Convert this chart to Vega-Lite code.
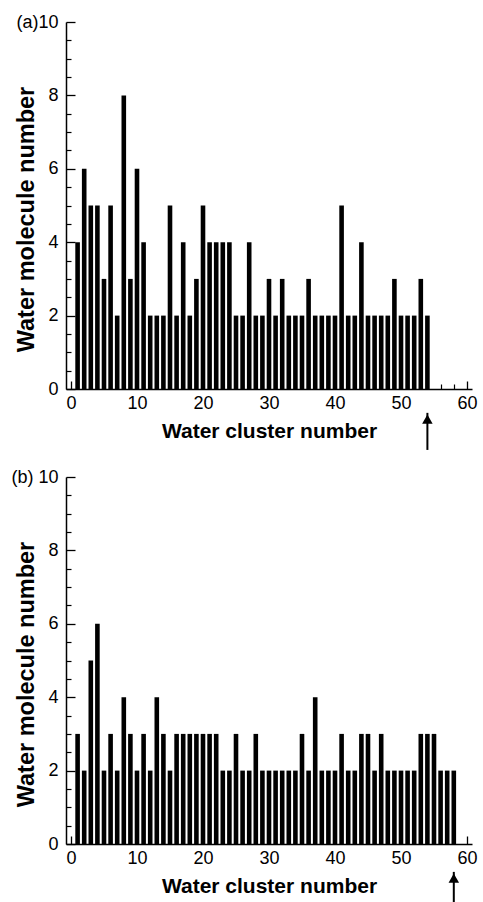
{
  "$schema": "https://vega.github.io/schema/vega-lite/v6.json",
  "padding": {"left": 10, "top": 13, "right": 0, "bottom": 0},
  "spacing": 17,
  "config": {
    "view": {"stroke": null},
    "font": "Liberation Sans",
    "axis": {
      "labelFont": "Liberation Sans",
      "titleFont": "Liberation Sans",
      "labelFontSize": 18,
      "titleFontSize": 21,
      "titleFontWeight": "bold",
      "labelColor": "black",
      "titleColor": "black",
      "domainColor": "black",
      "tickColor": "black",
      "grid": false
    }
  },
  "datasets": {
    "a": [
      {"cluster": 1, "molecules": 4}, {"cluster": 2, "molecules": 6}, {"cluster": 3, "molecules": 5}, {"cluster": 4, "molecules": 5},
      {"cluster": 5, "molecules": 3}, {"cluster": 6, "molecules": 5}, {"cluster": 7, "molecules": 2}, {"cluster": 8, "molecules": 8},
      {"cluster": 9, "molecules": 3}, {"cluster": 10, "molecules": 6}, {"cluster": 11, "molecules": 4}, {"cluster": 12, "molecules": 2},
      {"cluster": 13, "molecules": 2}, {"cluster": 14, "molecules": 2}, {"cluster": 15, "molecules": 5}, {"cluster": 16, "molecules": 2},
      {"cluster": 17, "molecules": 4}, {"cluster": 18, "molecules": 2}, {"cluster": 19, "molecules": 3}, {"cluster": 20, "molecules": 5},
      {"cluster": 21, "molecules": 4}, {"cluster": 22, "molecules": 4}, {"cluster": 23, "molecules": 4}, {"cluster": 24, "molecules": 4},
      {"cluster": 25, "molecules": 2}, {"cluster": 26, "molecules": 2}, {"cluster": 27, "molecules": 4}, {"cluster": 28, "molecules": 2},
      {"cluster": 29, "molecules": 2}, {"cluster": 30, "molecules": 3}, {"cluster": 31, "molecules": 2}, {"cluster": 32, "molecules": 3},
      {"cluster": 33, "molecules": 2}, {"cluster": 34, "molecules": 2}, {"cluster": 35, "molecules": 2}, {"cluster": 36, "molecules": 3},
      {"cluster": 37, "molecules": 2}, {"cluster": 38, "molecules": 2}, {"cluster": 39, "molecules": 2}, {"cluster": 40, "molecules": 2},
      {"cluster": 41, "molecules": 5}, {"cluster": 42, "molecules": 2}, {"cluster": 43, "molecules": 2}, {"cluster": 44, "molecules": 4},
      {"cluster": 45, "molecules": 2}, {"cluster": 46, "molecules": 2}, {"cluster": 47, "molecules": 2}, {"cluster": 48, "molecules": 2},
      {"cluster": 49, "molecules": 3}, {"cluster": 50, "molecules": 2}, {"cluster": 51, "molecules": 2}, {"cluster": 52, "molecules": 2},
      {"cluster": 53, "molecules": 3}, {"cluster": 54, "molecules": 2}
    ],
    "b": [
      {"cluster": 1, "molecules": 3}, {"cluster": 2, "molecules": 2}, {"cluster": 3, "molecules": 5}, {"cluster": 4, "molecules": 6},
      {"cluster": 5, "molecules": 2}, {"cluster": 6, "molecules": 3}, {"cluster": 7, "molecules": 2}, {"cluster": 8, "molecules": 4},
      {"cluster": 9, "molecules": 3}, {"cluster": 10, "molecules": 2}, {"cluster": 11, "molecules": 3}, {"cluster": 12, "molecules": 2},
      {"cluster": 13, "molecules": 4}, {"cluster": 14, "molecules": 3}, {"cluster": 15, "molecules": 2}, {"cluster": 16, "molecules": 3},
      {"cluster": 17, "molecules": 3}, {"cluster": 18, "molecules": 3}, {"cluster": 19, "molecules": 3}, {"cluster": 20, "molecules": 3},
      {"cluster": 21, "molecules": 3}, {"cluster": 22, "molecules": 3}, {"cluster": 23, "molecules": 2}, {"cluster": 24, "molecules": 2},
      {"cluster": 25, "molecules": 3}, {"cluster": 26, "molecules": 2}, {"cluster": 27, "molecules": 2}, {"cluster": 28, "molecules": 3},
      {"cluster": 29, "molecules": 2}, {"cluster": 30, "molecules": 2}, {"cluster": 31, "molecules": 2}, {"cluster": 32, "molecules": 2},
      {"cluster": 33, "molecules": 2}, {"cluster": 34, "molecules": 2}, {"cluster": 35, "molecules": 3}, {"cluster": 36, "molecules": 2},
      {"cluster": 37, "molecules": 4}, {"cluster": 38, "molecules": 2}, {"cluster": 39, "molecules": 2}, {"cluster": 40, "molecules": 2},
      {"cluster": 41, "molecules": 3}, {"cluster": 42, "molecules": 2}, {"cluster": 43, "molecules": 2}, {"cluster": 44, "molecules": 3},
      {"cluster": 45, "molecules": 3}, {"cluster": 46, "molecules": 2}, {"cluster": 47, "molecules": 3}, {"cluster": 48, "molecules": 2},
      {"cluster": 49, "molecules": 2}, {"cluster": 50, "molecules": 2}, {"cluster": 51, "molecules": 2}, {"cluster": 52, "molecules": 2},
      {"cluster": 53, "molecules": 3}, {"cluster": 54, "molecules": 3}, {"cluster": 55, "molecules": 3}, {"cluster": 56, "molecules": 2},
      {"cluster": 57, "molecules": 2}, {"cluster": 58, "molecules": 2}
    ],
    "arrowA": [{"cluster": 54, "tip": -0.65, "tail": -1.66, "head": -0.82}],
    "arrowB": [{"cluster": 58, "tip": -0.76, "tail": -1.9, "head": -0.93}]
  },
  "vconcat": [
    {
      "width": 406,
      "height": 367,
      "resolve": {"axis": {"x": "independent", "y": "independent"}},
      "layer": [
        {
          "data": {"name": "a"},
          "mark": {"type": "bar", "orient": "vertical", "width": 4.6, "color": "black"},
          "encoding": {
            "x": {"field": "cluster", "type": "quantitative", "scale": {"domain": [0, 60], "nice": false},
              "axis": {"orient": "bottom", "values": [0, 10, 20, 30, 40, 50, 60], "ticks": false, "domainWidth": 1.5, "labelPadding": 5, "title": "Water cluster number", "titlePadding": 8}},
            "y": {"field": "molecules", "type": "quantitative", "scale": {"domain": [0, 10], "nice": false},
              "axis": {"orient": "left", "values": [0, 2, 4, 6, 8, 10], "ticks": false, "domainWidth": 1.5, "labelPadding": 8,
                "labelExpr": "datum.value == 10 ? '(a)10' : datum.label",
                "title": "Water molecule number", "titleFontSize": 23.5, "titleX": -40, "titleY": 197, "titleBaseline": "middle", "titleAlign": "center", "titleAngle": -90}}
          }
        },
        {
          "data": {"name": "a"},
          "mark": {"type": "bar", "orient": "vertical", "width": 4.6, "opacity": 0},
          "encoding": {
            "x": {"field": "cluster", "type": "quantitative", "scale": {"domain": [0, 60], "nice": false},
              "axis": {"orient": "bottom", "values": [0, 10, 20, 30, 40, 50, 60], "labels": false, "domain": false, "title": null, "tickSize": -8, "tickWidth": 1.3}},
            "y": {"field": "molecules", "type": "quantitative", "scale": {"domain": [0, 10], "nice": false},
              "axis": {"orient": "left", "values": [0, 2, 4, 6, 8, 10], "labels": false, "domain": false, "title": null, "tickSize": -9, "tickWidth": 1.3}}
          }
        },
        {
          "data": {"name": "a"},
          "mark": {"type": "bar", "orient": "vertical", "width": 4.6, "opacity": 0},
          "encoding": {
            "x": {"field": "cluster", "type": "quantitative", "scale": {"domain": [0, 60], "nice": false},
              "axis": {"orient": "bottom", "values": [2, 4, 6, 8, 12, 14, 16, 18, 22, 24, 26, 28, 32, 34, 36, 38, 42, 44, 46, 48, 52, 54, 56, 58], "labels": false, "domain": false, "title": null, "tickSize": -5, "tickWidth": 1.2}},
            "y": {"field": "molecules", "type": "quantitative", "scale": {"domain": [0, 10], "nice": false},
              "axis": {"orient": "left", "values": [0.5, 1, 1.5, 2.5, 3, 3.5, 4.5, 5, 5.5, 6.5, 7, 7.5, 8.5, 9, 9.5], "labels": false, "domain": false, "title": null, "tickSize": -5, "tickWidth": 1.2}}
          }
        },
        {
          "data": {"name": "arrowA"},
          "mark": {"type": "rule", "strokeWidth": 2, "color": "black"},
          "encoding": {
            "x": {"field": "cluster", "type": "quantitative", "scale": {"domain": [0, 60], "nice": false}, "axis": null},
            "y": {"field": "tip", "type": "quantitative", "scale": {"domain": [0, 10], "nice": false}, "axis": null},
            "y2": {"field": "tail"}
          }
        },
        {
          "data": {"name": "arrowA"},
          "mark": {"type": "point", "shape": "triangle-up", "filled": true, "size": 110, "color": "black", "opacity": 1},
          "encoding": {
            "x": {"field": "cluster", "type": "quantitative", "scale": {"domain": [0, 60], "nice": false}, "axis": null},
            "y": {"field": "head", "type": "quantitative", "scale": {"domain": [0, 10], "nice": false}, "axis": null}
          }
        }
      ]
    },
    {
      "width": 406,
      "height": 367,
      "resolve": {"axis": {"x": "independent", "y": "independent"}},
      "layer": [
        {
          "data": {"name": "b"},
          "mark": {"type": "bar", "orient": "vertical", "width": 4.6, "color": "black"},
          "encoding": {
            "x": {"field": "cluster", "type": "quantitative", "scale": {"domain": [0, 60], "nice": false},
              "axis": {"orient": "bottom", "values": [0, 10, 20, 30, 40, 50, 60], "ticks": false, "domainWidth": 1.5, "labelPadding": 5, "title": "Water cluster number", "titlePadding": 8}},
            "y": {"field": "molecules", "type": "quantitative", "scale": {"domain": [0, 10], "nice": false},
              "axis": {"orient": "left", "values": [0, 2, 4, 6, 8, 10], "ticks": false, "domainWidth": 1.5, "labelPadding": 8,
                "labelExpr": "datum.value == 10 ? '(b) 10' : datum.label",
                "title": "Water molecule number", "titleFontSize": 23.5, "titleX": -40, "titleY": 197, "titleBaseline": "middle", "titleAlign": "center", "titleAngle": -90}}
          }
        },
        {
          "data": {"name": "b"},
          "mark": {"type": "bar", "orient": "vertical", "width": 4.6, "opacity": 0},
          "encoding": {
            "x": {"field": "cluster", "type": "quantitative", "scale": {"domain": [0, 60], "nice": false},
              "axis": {"orient": "bottom", "values": [0, 10, 20, 30, 40, 50, 60], "labels": false, "domain": false, "title": null, "tickSize": -8, "tickWidth": 1.3}},
            "y": {"field": "molecules", "type": "quantitative", "scale": {"domain": [0, 10], "nice": false},
              "axis": {"orient": "left", "values": [0, 2, 4, 6, 8, 10], "labels": false, "domain": false, "title": null, "tickSize": -9, "tickWidth": 1.3}}
          }
        },
        {
          "data": {"name": "b"},
          "mark": {"type": "bar", "orient": "vertical", "width": 4.6, "opacity": 0},
          "encoding": {
            "x": {"field": "cluster", "type": "quantitative", "scale": {"domain": [0, 60], "nice": false},
              "axis": {"orient": "bottom", "values": [2, 4, 6, 8, 12, 14, 16, 18, 22, 24, 26, 28, 32, 34, 36, 38, 42, 44, 46, 48, 52, 54, 56, 58], "labels": false, "domain": false, "title": null, "tickSize": -5, "tickWidth": 1.2}},
            "y": {"field": "molecules", "type": "quantitative", "scale": {"domain": [0, 10], "nice": false},
              "axis": {"orient": "left", "values": [0.5, 1, 1.5, 2.5, 3, 3.5, 4.5, 5, 5.5, 6.5, 7, 7.5, 8.5, 9, 9.5], "labels": false, "domain": false, "title": null, "tickSize": -5, "tickWidth": 1.2}}
          }
        },
        {
          "data": {"name": "arrowB"},
          "mark": {"type": "rule", "strokeWidth": 2, "color": "black"},
          "encoding": {
            "x": {"field": "cluster", "type": "quantitative", "scale": {"domain": [0, 60], "nice": false}, "axis": null},
            "y": {"field": "tip", "type": "quantitative", "scale": {"domain": [0, 10], "nice": false}, "axis": null},
            "y2": {"field": "tail"}
          }
        },
        {
          "data": {"name": "arrowB"},
          "mark": {"type": "point", "shape": "triangle-up", "filled": true, "size": 110, "color": "black", "opacity": 1},
          "encoding": {
            "x": {"field": "cluster", "type": "quantitative", "scale": {"domain": [0, 60], "nice": false}, "axis": null},
            "y": {"field": "head", "type": "quantitative", "scale": {"domain": [0, 10], "nice": false}, "axis": null}
          }
        }
      ]
    }
  ]
}
